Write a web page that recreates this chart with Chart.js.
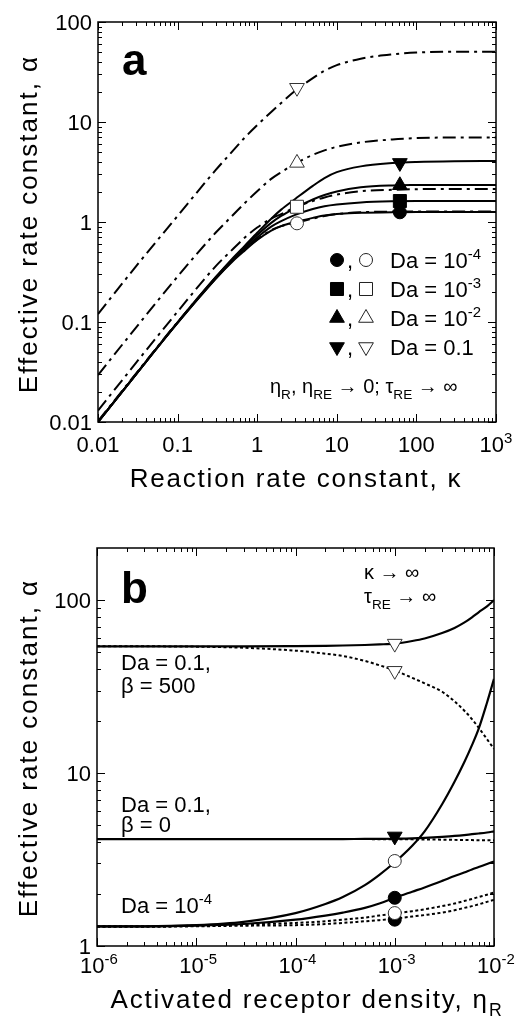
<!DOCTYPE html>
<html>
<head>
<meta charset="utf-8">
<script src="https://cdn.jsdelivr.net/npm/chart.js@4.4.1/dist/chart.umd.min.js"></script>
<style>
  body { margin: 0; background: #fff; }
  .panel { position: absolute; left: 0; width: 526px; height: 515px; }
</style>
</head>
<body>
<div class="panel" style="top:0"><canvas id="chartA"></canvas></div>
<div class="panel" style="top:515px"><canvas id="chartB"></canvas></div>
<script>
// ---- panel a data ----
const kappa = [0.01, 0.03, 0.1, 0.3, 0.5, 0.7, 1, 1.5, 2, 3, 5, 7, 10, 20, 50, 100, 300, 1000];
// solid lines (filled symbols)
const aSolidDa4 = [0.01, 0.03, 0.098, 0.27, 0.41, 0.52, 0.66, 0.82, 0.91, 1.0, 1.1, 1.16, 1.2, 1.24, 1.25, 1.26, 1.26, 1.26];
const aSolidDa3 = [0.01, 0.03, 0.098, 0.27, 0.42, 0.54, 0.7, 0.9, 1.02, 1.18, 1.35, 1.44, 1.5, 1.57, 1.61, 1.62, 1.62, 1.62];
const aSolidDa2 = [0.01, 0.03, 0.099, 0.28, 0.43, 0.56, 0.74, 0.98, 1.15, 1.38, 1.68, 1.86, 2.02, 2.22, 2.32, 2.34, 2.35, 2.35];
const aSolidDa1 = [0.01, 0.03, 0.099, 0.28, 0.44, 0.58, 0.78, 1.08, 1.33, 1.7, 2.3, 2.75, 3.15, 3.6, 3.88, 3.98, 4.05, 4.07];
// dash-dot lines (open symbols)
const aDashDa4 = [0.0102, 0.0305, 0.1, 0.275, 0.42, 0.53, 0.67, 0.83, 0.91, 0.98, 1.08, 1.15, 1.2, 1.25, 1.27, 1.27, 1.27, 1.27];
const aDashDa3 = [0.013, 0.039, 0.127, 0.36, 0.54, 0.7, 0.88, 1.08, 1.2, 1.4, 1.62, 1.76, 1.88, 2.03, 2.1, 2.13, 2.14, 2.14];
const aDashDa2 = [0.0295, 0.088, 0.285, 0.78, 1.18, 1.55, 2.03, 2.7, 3.15, 3.82, 4.7, 5.2, 5.65, 6.25, 6.7, 6.9, 7.0, 7.0];
const aDashDa1 = [0.12, 0.36, 1.15, 3.3, 5.2, 7, 9.3, 12.6, 15.5, 20.5, 27.5, 32.5, 37, 43, 47.5, 49.5, 50.5, 50.5];
// symbols: Da = 1e-4, 1e-3, 1e-2, 0.1
const aOpenKappa = 3.16;
const aOpenAlpha = [0.97, 1.42, 3.9, 22];
const aFilledKappa = 62;
const aFilledAlpha = [1.25, 1.62, 2.33, 3.9];
const daLabels = [['10', '-4'], ['10', '-3'], ['10', '-2'], ['0.1', '']];

// ---- panel b data ----
const eta = [1e-6, 3e-6, 1e-5, 3e-5, 1e-4, 2e-4, 3e-4, 5e-4, 7e-4, 1e-3, 1.5e-3, 2e-3, 3e-3, 4e-3, 5e-3, 6e-3, 7e-3, 8.5e-3, 1e-2];
const bSolidDa1B500 = [54, 54, 54, 54, 54.2, 54.4, 54.6, 55, 55.4, 56, 58, 60, 64.5, 69, 74, 79.5, 85, 92, 100];
const bDotDa1B500 = [54, 54, 53.8, 53, 51, 49, 47.5, 44.5, 42, 39.2, 35.5, 33, 29.5, 26, 23, 20.5, 18.3, 15.7, 13.8];
const bSolidDa1B0 = [4.15, 4.15, 4.15, 4.15, 4.15, 4.15, 4.15, 4.16, 4.16, 4.17, 4.19, 4.22, 4.28, 4.33, 4.38, 4.43, 4.47, 4.53, 4.6];
const bDotDa1B0 = [4.15, 4.15, 4.15, 4.15, 4.15, 4.15, 4.15, 4.15, 4.145, 4.14, 4.135, 4.13, 4.12, 4.11, 4.1, 4.095, 4.09, 4.085, 4.08];
const bSolidDa4B500 = [1.3, 1.3, 1.32, 1.38, 1.55, 1.75, 1.92, 2.25, 2.58, 3.05, 3.8, 4.6, 6.6, 8.9, 11.5, 14.5, 18, 25.5, 35];
const bSolidDa4B0 = [1.3, 1.3, 1.31, 1.34, 1.42, 1.5, 1.56, 1.66, 1.76, 1.9, 2.06, 2.18, 2.38, 2.54, 2.66, 2.77, 2.86, 2.98, 3.08];
const bDotDa4B500 = [1.3, 1.3, 1.31, 1.33, 1.36, 1.39, 1.42, 1.46, 1.5, 1.54, 1.59, 1.63, 1.7, 1.76, 1.82, 1.87, 1.92, 1.98, 2.04];
const bDotDa4B0 = [1.29, 1.29, 1.3, 1.31, 1.32, 1.34, 1.36, 1.39, 1.41, 1.44, 1.48, 1.51, 1.56, 1.61, 1.66, 1.7, 1.74, 1.8, 1.85];
const bMarkEta = 1e-3;
const bMarkAlpha = [56, 39, 4.3, 3.1, 1.9, 1.55, 1.42];

const FONT = '"Liberation Sans", Arial, Helvetica, sans-serif';
const DASHDOT = [13, 5, 3, 5];
const DOTTED = [3, 2.5];
const symbols = [
  { pointStyle: 'circle', rotation: 0, radius: 6.5 },
  { pointStyle: 'rect', rotation: 0, radius: 9.2 },
  { pointStyle: 'triangle', rotation: 0, radius: 8.5 },
  { pointStyle: 'triangle', rotation: 180, radius: 8.5 }
];

function pts(xs, ys) {
  return xs.map((x, i) => ({ x: x, y: ys[i] }));
}

function lineSet(xs, ys, dash, width) {
  return {
    type: 'line',
    data: pts(xs, ys),
    borderColor: '#000',
    borderWidth: width || 2,
    borderDash: dash || [],
    pointRadius: 0,
    fill: false,
    cubicInterpolationMode: 'monotone',
    order: 2
  };
}

function markSet(x, y, sym, filled) {
  return {
    type: 'line',
    data: [{ x: x, y: y }],
    showLine: false,
    pointStyle: sym.pointStyle,
    rotation: sym.rotation,
    pointRadius: sym.radius,
    pointBackgroundColor: filled ? '#000' : '#fff',
    pointBorderColor: filled ? '#000' : '#333',
    pointBorderWidth: 1,
    order: 0
  };
}

// text made of normal / sub / sup pieces
function rich(ctx, parts, x, y, size, align, spacing) {
  ctx.letterSpacing = (spacing || 0) + 'px';
  const sizes = parts.map(p => (p[1] === 'n' ? size : size * 0.68));
  const widths = parts.map((p, i) => {
    ctx.font = sizes[i] + 'px ' + FONT;
    return ctx.measureText(p[0]).width;
  });
  const total = widths.reduce((a, b) => a + b, 0);
  let cx = align === 'right' ? x - total : align === 'center' ? x - total / 2 : x;
  ctx.textAlign = 'left';
  ctx.textBaseline = 'alphabetic';
  ctx.fillStyle = '#000';
  parts.forEach((p, i) => {
    ctx.font = sizes[i] + 'px ' + FONT;
    const dy = p[1] === 'sup' ? -size * 0.42 : p[1] === 'sub' ? size * 0.3 : 0;
    ctx.fillText(p[0], cx, y + dy);
    cx += widths[i];
  });
  ctx.letterSpacing = '0px';
}

function decades(lo, hi) {
  const out = [];
  for (let d = lo; d <= hi; d++) out.push(Math.pow(10, d));
  return out;
}
function minors(lo, hi, max) {
  const out = [];
  for (let d = lo; d <= hi; d++) {
    for (let k = 2; k <= 9; k++) {
      const v = k * Math.pow(10, d);
      if (v < max) out.push(v);
    }
  }
  return out;
}

function drawFrame(chart, xMaj, xMin, yMaj, yMin) {
  const ctx = chart.ctx;
  const a = chart.chartArea;
  const sx = chart.scales.x, sy = chart.scales.y;
  ctx.save();
  ctx.strokeStyle = '#000';
  ctx.lineWidth = 1.5;
  ctx.strokeRect(a.left, a.top, a.right - a.left, a.bottom - a.top);
  ctx.lineWidth = 1;
  ctx.beginPath();
  const tx = (v, len) => {
    const p = Math.round(sx.getPixelForValue(v)) + 0.5;
    ctx.moveTo(p, a.bottom); ctx.lineTo(p, a.bottom - len);
    ctx.moveTo(p, a.top); ctx.lineTo(p, a.top + len);
  };
  const ty = (v, len) => {
    const p = Math.round(sy.getPixelForValue(v)) + 0.5;
    ctx.moveTo(a.left, p); ctx.lineTo(a.left + len, p);
    ctx.moveTo(a.right, p); ctx.lineTo(a.right - len, p);
  };
  xMaj.forEach(v => tx(v, 8));
  xMin.forEach(v => tx(v, 4));
  yMaj.forEach(v => ty(v, 8));
  yMin.forEach(v => ty(v, 4));
  ctx.stroke();
  ctx.restore();
}

function yTitle(ctx, x, y, parts) {
  ctx.save();
  ctx.translate(x, y);
  ctx.rotate(-Math.PI / 2);
  rich(ctx, parts, 0, 0, 26, 'center', 2);
  ctx.restore();
}

const panelA = {
  id: 'panelA',
  afterDraw(chart) {
    const ctx = chart.ctx;
    const sx = chart.scales.x, sy = chart.scales.y;
    const a = chart.chartArea;
    drawFrame(chart, decades(-2, 3), minors(-2, 2, 1000), decades(-2, 2), minors(-2, 1, 100));
    // tick labels
    const xl = [['0.01'], ['0.1'], ['1'], ['10'], ['100'], ['10', '3']];
    decades(-2, 3).forEach((v, i) => {
      const parts = [[xl[i][0], 'n']];
      if (xl[i][1]) parts.push([xl[i][1], 'sup']);
      rich(ctx, parts, sx.getPixelForValue(v), a.bottom + 30, 22, 'center');
    });
    ['0.01', '0.1', '1', '10', '100'].forEach((t, i) => {
      rich(ctx, [[t, 'n']], a.left - 6, sy.getPixelForValue(Math.pow(10, i - 2)) + 8, 22, 'right');
    });
    rich(ctx, [['Reaction rate constant, κ', 'n']], 296, 487, 26, 'center', 1.8);
    yTitle(ctx, 37, 224, [['Effective rate constant, α', 'n']]);
    // panel letter
    ctx.font = 'bold 44px ' + FONT;
    ctx.fillStyle = '#000';
    ctx.textAlign = 'left';
    ctx.fillText('a', 122, 75);
    // legend
    const rows = [260, 289, 318, 347];
    rows.forEach((y, i) => {
      const s = symbols[i];
      ctx.save();
      ctx.fillStyle = '#000'; ctx.strokeStyle = '#000'; ctx.lineWidth = 1;
      Chart.helpers.drawPoint(ctx, { pointStyle: s.pointStyle, rotation: s.rotation, radius: s.radius, borderWidth: 1 }, 337, y);
      ctx.fillStyle = '#fff'; ctx.strokeStyle = '#222';
      Chart.helpers.drawPoint(ctx, { pointStyle: s.pointStyle, rotation: s.rotation, radius: s.radius, borderWidth: 1 }, 366, y);
      ctx.restore();
      rich(ctx, [[',', 'n']], 347, y + 8, 22, 'left');
      const parts = [['Da = ' + daLabels[i][0], 'n']];
      if (daLabels[i][1]) parts.push([daLabels[i][1], 'sup']);
      rich(ctx, parts, 390, y + 8, 22, 'left');
    });
    rich(ctx, [['η', 'n'], ['R', 'sub'], [', ', 'n'], ['η', 'n'], ['RE', 'sub'], [' → 0; ', 'n'],
      ['τ', 'n'], ['RE', 'sub'], [' → ∞', 'n']], 270, 393, 20, 'left');
  }
};

const panelB = {
  id: 'panelB',
  afterDraw(chart) {
    const ctx = chart.ctx;
    const sx = chart.scales.x, sy = chart.scales.y;
    const a = chart.chartArea;
    drawFrame(chart, decades(-6, -2), minors(-6, -3, 1), decades(0, 2), minors(0, 2, 200));
    decades(-6, -2).forEach((v, i) => {
      rich(ctx, [['10', 'n'], [String(i - 6), 'sup']], sx.getPixelForValue(v) + 2, a.bottom + 27, 22, 'center');
    });
    ['1', '10', '100'].forEach((t, i) => {
      rich(ctx, [[t, 'n']], a.left - 6, sy.getPixelForValue(Math.pow(10, i)) + 8, 22, 'right');
    });
    rich(ctx, [['Activated receptor density, η', 'n'], ['R', 'sub']], 307, 493, 26, 'center', 1.8);
    yTitle(ctx, 37, 233, [['Effective rate constant, α', 'n']]);
    ctx.font = 'bold 44px ' + FONT;
    ctx.fillStyle = '#000';
    ctx.textAlign = 'left';
    ctx.fillText('b', 121, 88);
    rich(ctx, [['Da = 0.1,', 'n']], 121, 155, 22, 'left');
    rich(ctx, [['β = 500', 'n']], 121, 178, 22, 'left');
    rich(ctx, [['Da = 0.1,', 'n']], 121, 297, 22, 'left');
    rich(ctx, [['β = 0', 'n']], 121, 317, 22, 'left');
    rich(ctx, [['Da = 10', 'n'], ['-4', 'sup']], 121, 398, 22, 'left');
    rich(ctx, [['κ → ∞', 'n']], 364, 64, 20, 'left');
    rich(ctx, [['τ', 'n'], ['RE', 'sub'], [' → ∞', 'n']], 364, 88, 20, 'left');
  }
};

const baseOptions = (pad, xr, yr) => ({
  responsive: true,
  maintainAspectRatio: false,
  animation: false,
  layout: { padding: pad },
  plugins: { legend: { display: false }, tooltip: { enabled: false } },
  scales: {
    x: { type: 'logarithmic', min: xr[0], max: xr[1], display: false },
    y: { type: 'logarithmic', min: yr[0], max: yr[1], display: false }
  }
});

const aDatasets = [
  lineSet(kappa, aSolidDa4), lineSet(kappa, aSolidDa3), lineSet(kappa, aSolidDa2), lineSet(kappa, aSolidDa1),
  lineSet(kappa, aDashDa4, DASHDOT), lineSet(kappa, aDashDa3, DASHDOT),
  lineSet(kappa, aDashDa2, DASHDOT), lineSet(kappa, aDashDa1, DASHDOT)
];
symbols.forEach((s, i) => {
  aDatasets.push(markSet(aOpenKappa, aOpenAlpha[i], s, false));
  aDatasets.push(markSet(aFilledKappa, aFilledAlpha[i], s, true));
});

new Chart(document.getElementById('chartA'), {
  type: 'line',
  data: { datasets: aDatasets },
  options: baseOptions({ left: 98, right: 30, top: 22, bottom: 93 }, [0.01, 1000], [0.01, 100]),
  plugins: [panelA]
});

const tri = symbols[3], circ = symbols[0];
const bDatasets = [
  lineSet(eta, bSolidDa1B500, [], 2.2), lineSet(eta, bDotDa1B500, DOTTED, 2),
  lineSet(eta, bSolidDa1B0, [], 2.2), lineSet(eta, bDotDa1B0, DOTTED, 2),
  lineSet(eta, bSolidDa4B500, [], 2.2), lineSet(eta, bSolidDa4B0, [], 2.2),
  lineSet(eta, bDotDa4B500, DOTTED, 2), lineSet(eta, bDotDa4B0, DOTTED, 2),
  markSet(bMarkEta, bMarkAlpha[0], tri, false),
  markSet(bMarkEta, bMarkAlpha[1], tri, false),
  markSet(bMarkEta, bMarkAlpha[2], tri, true),
  markSet(bMarkEta, bMarkAlpha[3], circ, false),
  markSet(bMarkEta, bMarkAlpha[4], circ, true),
  markSet(bMarkEta, bMarkAlpha[5], circ, false),
  markSet(bMarkEta, bMarkAlpha[6], circ, true)
];

new Chart(document.getElementById('chartB'), {
  type: 'line',
  data: { datasets: bDatasets },
  options: baseOptions({ left: 97, right: 32, top: 33, bottom: 84 }, [1e-6, 1e-2], [1, 200]),
  plugins: [panelB]
});
</script>
</body>
</html>
